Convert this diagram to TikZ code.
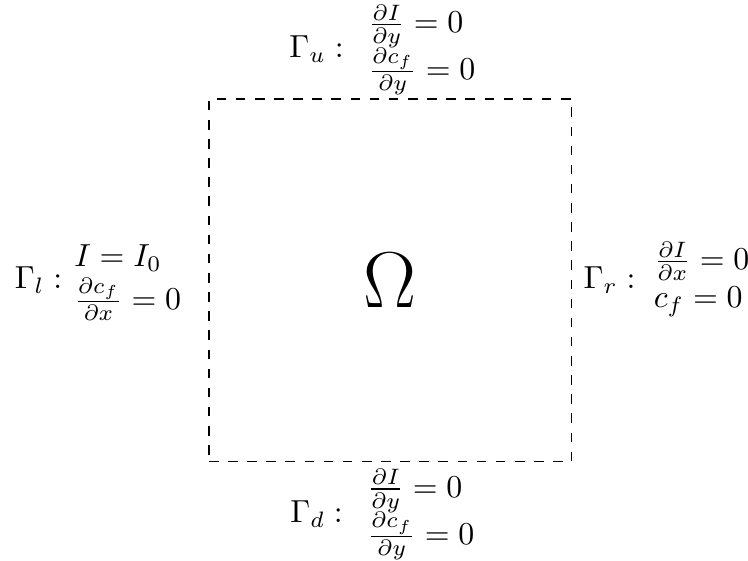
\documentclass[tikz,border=0pt]{standalone}
\usepackage{amsmath,amssymb}
\usetikzlibrary{positioning}
\tikzset{
  domainbox/.style={
    draw, dashed, minimum size=4cm, inner sep=0pt
  },
  bclabel/.style={
    inner sep=0.3333em
  },
}
\begin{document}
\begin{tikzpicture}
  \useasboundingbox (-2.304,-1.084) rectangle (5.943,5.092);

  % === Domain ===
  \node[domainbox] (omega) at (2,2) {\Huge $\Omega$};

  % === Boundary conditions ===
  \node[bclabel, left=0pt of omega] (gammal)
    {$\Gamma_l : \hspace{-4pt}\begin{array}{l} I = I_0 \\ \frac{\partial c_f}{\partial x} = 0 \end{array}$};
  \node[bclabel, right=0pt of omega] (gammar)
    {$\Gamma_r : \hspace{-2pt}\begin{array}{l} \frac{\partial I}{\partial x} = 0 \\ c_f = 0 \end{array}$};
  \node[bclabel, above=-2.5pt of omega] (gammau)
    {$\Gamma_u : \begin{array}{l} \frac{\partial I}{\partial y} = 0 \\ \frac{\partial c_f}{\partial y} = 0 \end{array}$};
  \node[bclabel, below=-1.5pt of omega] (gammad)
    {$\Gamma_d : \begin{array}{l} \frac{\partial I}{\partial y} = 0 \\ \frac{\partial c_f}{\partial y} = 0 \end{array}$};

\end{tikzpicture}
\end{document}
